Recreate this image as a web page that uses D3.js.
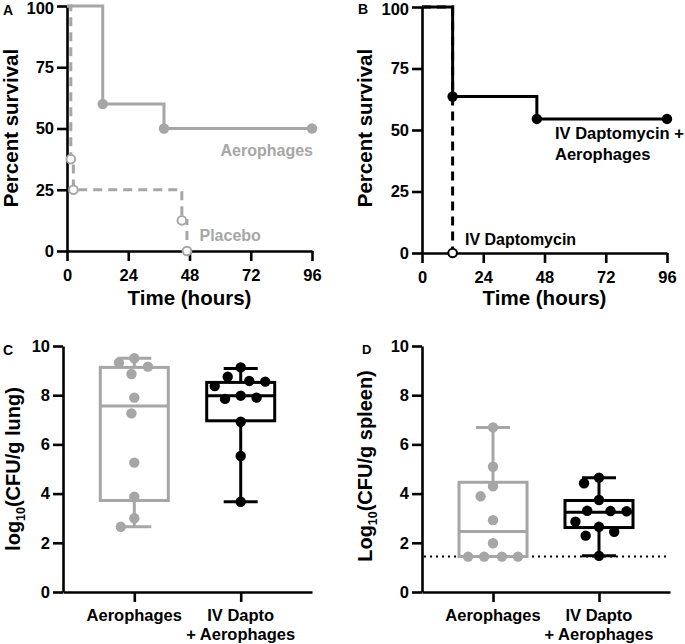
<!DOCTYPE html>
<html>
<head>
<meta charset="utf-8">
<script src="https://cdn.jsdelivr.net/npm/d3@7"></script>
<style>
  html, body { margin: 0; padding: 0; background: #fff; }
  svg { display: block; }
</style>
</head>
<body>
<script>
// ---------------- DATA ----------------
const timeTicks = [0, 24, 48, 72, 96];
const survTicks = [0, 25, 50, 75, 100];

// Panel A – Kaplan-Meier
const aeroTimesA = [0, 14, 38, 96];
const aeroSurvA = [100, 60, 50, 50];
const placeboTimesA = [0, 1.5, 2.5, 45, 47];
const placeboSurvA = [100, 37.5, 25, 12.5, 0];

// Panel B – Kaplan-Meier
const comboTimesB = [0, 12, 45, 96];
const comboSurvB = [100, 63.6, 54.5, 54.5];
const daptoTimesB = [0, 12];
const daptoSurvB = [100, 0];

// Panels C & D – box plots
const groups = ["Aerophages", "IV Dapto + Aerophages"];
const groupLabelLines = [["Aerophages"], ["IV Dapto", "+ Aerophages"]];
const cfuTicks = [0, 2, 4, 6, 8, 10];

const lungAero = [9.5, 9.32, 9.16, 8.86, 7.9, 7.26, 5.26, 3.87, 3.0, 2.65];
const lungCombo = [9.13, 8.75, 8.58, 8.55, 8.37, 7.98, 7.9, 7.85, 6.92, 5.53, 3.67];
const spleenAero = [6.69, 5.09, 4.3, 3.89, 2.92, 1.98, 1.44, 1.44, 1.44, 1.44];
const spleenCombo = [4.65, 4.42, 3.74, 3.3, 3.29, 3.28, 2.86, 2.65, 2.45, 2.29, 1.47];

// [min, q1, median, q3, max]
const lungAeroBox = [2.65, 3.72, 7.56, 9.13, 9.5];
const lungComboBox = [3.67, 6.96, 7.98, 8.52, 9.09];
const spleenAeroBox = [1.44, 1.44, 2.46, 4.46, 6.69];
const spleenComboBox = [1.47, 2.62, 3.24, 3.72, 4.64];

const detectionLimit = 1.44;

// ---------------- STYLE ----------------
const FONT = "'Liberation Sans', Arial, Helvetica, sans-serif";
const GRAY = "#a6a6a6";
const BLACK = "#000";

const svg = d3.select("body").append("svg")
  .attr("width", 685).attr("height", 644)
  .attr("font-family", FONT);

function styleAxis(g) {
  g.attr("font-family", FONT).attr("font-size", 16.5).attr("font-weight", "bold");
  g.select(".domain").attr("stroke", BLACK).attr("stroke-width", 2.6);
  g.selectAll(".tick line").attr("stroke", BLACK).attr("stroke-width", 2.6);
  g.selectAll(".tick text").attr("fill", BLACK);
}

function text(x, y, str, opts = {}) {
  return svg.append("text")
    .attr("x", x).attr("y", y)
    .attr("font-size", opts.size || 16)
    .attr("font-weight", opts.weight || "bold")
    .attr("fill", opts.fill || BLACK)
    .attr("text-anchor", opts.anchor || "start")
    .text(str);
}

function rotTitle(x, y, parts, size) {
  const t = svg.append("text")
    .attr("transform", `translate(${x},${y}) rotate(-90)`)
    .attr("text-anchor", "middle")
    .attr("font-size", size).attr("font-weight", "bold").attr("fill", BLACK);
  parts.forEach(p => {
    const ts = t.append("tspan").text(p.t);
    if (p.sub) ts.attr("font-size", size * 0.62).attr("dy", 5);
    if (p.after) ts.attr("dy", -5);
  });
  return t;
}

// ---------------- KM PANELS ----------------
function kmPanel(cfg) {
  const x = d3.scaleLinear().domain([0, 96]).range(cfg.xr);
  const y = d3.scaleLinear().domain([0, 100]).range(cfg.yr);
  const line = d3.line().x(d => x(d[0])).y(d => y(d[1])).curve(d3.curveStepAfter);

  svg.append("g").attr("transform", `translate(0,${cfg.yr[0]})`)
    .call(d3.axisBottom(x).tickValues(timeTicks).tickSize(10).tickPadding(8).tickSizeOuter(0))
    .call(styleAxis);
  const ya = svg.append("g").attr("transform", `translate(${cfg.xr[0]},0)`)
    .call(d3.axisLeft(y).tickValues(survTicks).tickSize(10).tickPadding(3).tickSizeOuter(0))
    .call(styleAxis);
  // keep the top label inside the picture
  ya.selectAll(".tick text").filter(d => d === 100).attr("dy", "0.45em");

  cfg.series.forEach(s => {
    const pts = s.times.map((t, i) => [t, s.surv[i]]);
    svg.append("path").datum(pts)
      .attr("d", line)
      .attr("fill", "none")
      .attr("stroke", s.color)
      .attr("stroke-width", 3)
      .attr("stroke-dasharray", s.dashed ? "9,6" : null);
    svg.append("g").selectAll("circle").data(pts.slice(1)).join("circle")
      .attr("cx", d => x(d[0])).attr("cy", d => y(d[1]))
      .attr("r", s.open ? 4.3 : 5.2)
      .attr("fill", s.open ? "#fff" : s.color)
      .attr("stroke", s.color)
      .attr("stroke-width", s.open ? 2 : 0);
  });
  return { x, y };
}

kmPanel({
  xr: [67, 312], yr: [251, 6],
  series: [
    { times: placeboTimesA, surv: placeboSurvA, color: GRAY, dashed: true, open: true },
    { times: aeroTimesA, surv: aeroSurvA, color: GRAY, dashed: false, open: false }
  ]
});
text(313, 156, "Aerophages", { fill: GRAY, anchor: "end" });
text(199.5, 241, "Placebo", { fill: GRAY });
text(189.5, 305, "Time (hours)", { size: 20.5, anchor: "middle" });
rotTitle(18, 128, [{ t: "Percent survival" }], 20.5);
text(3, 15, "A", { size: 14 });

kmPanel({
  xr: [422, 667], yr: [253, 7],
  series: [
    { times: daptoTimesB, surv: daptoSurvB, color: BLACK, dashed: true, open: true },
    { times: comboTimesB, surv: comboSurvB, color: BLACK, dashed: false, open: false }
  ]
});
text(555, 139, "IV Daptomycin +", { size: 16.5 });
text(555, 160, "Aerophages", { size: 16.5 });
text(465, 245, "IV Daptomycin", { size: 16 });
text(544.5, 305, "Time (hours)", { size: 20.5, anchor: "middle" });
rotTitle(372, 128, [{ t: "Percent survival" }], 20.5);
text(358, 14, "B", { size: 14 });

// ---------------- BOX PANELS ----------------
function swarm(values, y, D) {
  const pts = values.map(v => ({ v, py: y(v), dx: 0 }));
  const order = pts.slice().sort((a, b) => a.py - b.py);
  const placed = [];
  for (const p of order) {
    const cands = [0];
    for (const q of placed) {
      const dy = Math.abs(p.py - q.py);
      if (dy < D) {
        const h = Math.sqrt(D * D - dy * dy);
        cands.push(q.dx - h, q.dx + h);
      }
    }
    cands.sort((a, b) => Math.abs(a) - Math.abs(b) || a - b);
    for (const c of cands) {
      if (placed.every(q => (c - q.dx) ** 2 + (p.py - q.py) ** 2 >= D * D - 1e-6)) { p.dx = c; break; }
    }
    placed.push(p);
  }
  return pts;
}

function boxPanel(cfg) {
  const x = d3.scalePoint().domain(groups).range(cfg.xr).padding(0.67);
  const y = d3.scaleLinear().domain([0, 10]).range(cfg.yr);

  svg.append("g").attr("transform", `translate(0,${cfg.yr[0]})`)
    .call(d3.axisBottom(x).tickSize(10).tickSizeOuter(0).tickFormat(""))
    .call(styleAxis);
  svg.append("g").attr("transform", `translate(${cfg.xr[0]},0)`)
    .call(d3.axisLeft(y).tickValues(cfuTicks).tickSize(10).tickPadding(3).tickSizeOuter(0))
    .call(styleAxis);

  groups.forEach((gname, gi) => {
    const lines = groupLabelLines[gi];
    lines.forEach((ln, li) => {
      text(x(gname), 621 + li * 19, ln, { size: 16.5, anchor: "middle" });
    });
  });

  if (cfg.limit != null) {
    svg.append("line")
      .attr("x1", cfg.xr[0] + 2).attr("x2", cfg.xr[1])
      .attr("y1", y(cfg.limit)).attr("y2", y(cfg.limit))
      .attr("stroke", BLACK).attr("stroke-width", 2)
      .attr("stroke-dasharray", "2,4");
  }

  const boxW = 68, capW = 34;
  cfg.boxes.forEach((b, gi) => {
    const cx = x(groups[gi]);
    const color = cfg.colors[gi];
    const [mn, q1, md, q3, mx] = b;
    const g = svg.append("g").attr("stroke", color).attr("stroke-width", 3).attr("fill", "none");
    g.append("line").attr("x1", cx).attr("x2", cx).attr("y1", y(q3)).attr("y2", y(mx));
    g.append("line").attr("x1", cx).attr("x2", cx).attr("y1", y(q1)).attr("y2", y(mn));
    g.append("line").attr("x1", cx - capW / 2).attr("x2", cx + capW / 2).attr("y1", y(mx)).attr("y2", y(mx));
    g.append("line").attr("x1", cx - capW / 2).attr("x2", cx + capW / 2).attr("y1", y(mn)).attr("y2", y(mn));
    g.append("rect").attr("x", cx - boxW / 2).attr("y", y(q3))
      .attr("width", boxW).attr("height", Math.max(0, y(q1) - y(q3)));
    g.append("line").attr("x1", cx - boxW / 2).attr("x2", cx + boxW / 2).attr("y1", y(md)).attr("y2", y(md));
  });

  cfg.points.forEach((vals, gi) => {
    const cx = x(groups[gi]);
    const pts = swarm(vals, y, 16);
    svg.append("g").selectAll("circle").data(pts).join("circle")
      .attr("cx", d => cx + d.dx).attr("cy", d => d.py)
      .attr("r", 5.2).attr("fill", cfg.colors[gi]);
  });
}

boxPanel({
  xr: [63, 312], yr: [592, 346],
  boxes: [lungAeroBox, lungComboBox],
  points: [lungAero, lungCombo],
  colors: [GRAY, BLACK]
});
rotTitle(19.5, 469, [{ t: "log" }, { t: "10", sub: true }, { t: "(CFU/g lung)", after: true }], 20);
text(3, 355, "C", { size: 14 });

boxPanel({
  xr: [422, 670], yr: [592, 346],
  boxes: [spleenAeroBox, spleenComboBox],
  points: [spleenAero, spleenCombo],
  colors: [GRAY, BLACK],
  limit: detectionLimit
});
rotTitle(371.5, 466, [{ t: "Log" }, { t: "10", sub: true }, { t: "(CFU/g spleen)", after: true }], 20);
text(362, 354, "D", { size: 13 });
</script>
</body>
</html>
